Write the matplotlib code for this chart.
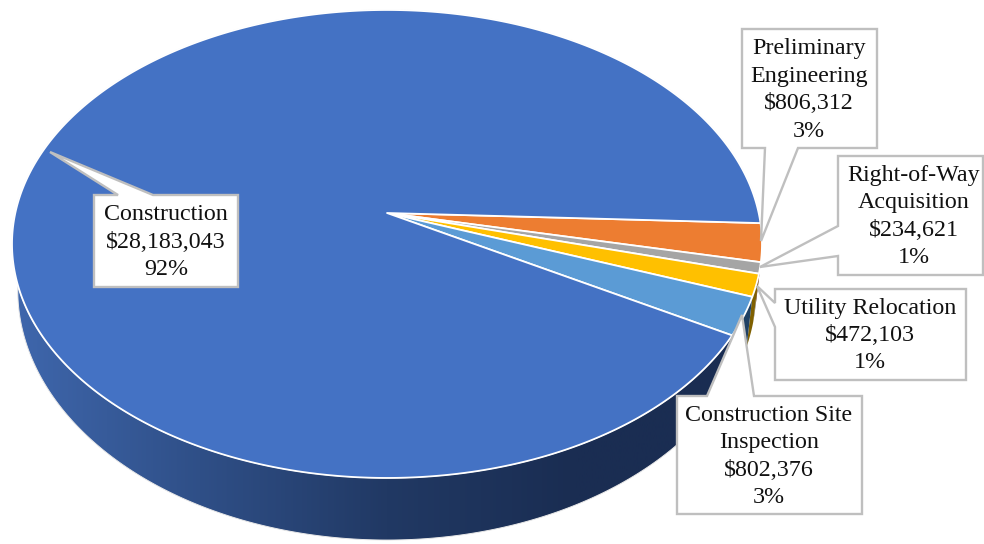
import numpy as np
import matplotlib
matplotlib.use("Agg")
import matplotlib.pyplot as plt
from matplotlib.patches import Polygon

plt.rcParams['font.family'] = ['Liberation Serif', 'DejaVu Serif']

names = ["Preliminary\nEngineering", "Right-of-Way\nAcquisition", "Utility Relocation",
         "Construction Site\nInspection", "Construction"]
costs = [806312, 234621, 472103, 802376, 28183043]
percents = [3, 1, 1, 3, 92]
top_colors = ["#ED7D31", "#A5A5A5", "#FFC000", "#5B9BD5", "#4472C4"]
side_colors = ["#8E4B1D", "#636363", "#7F6000", "#1F4064", "#1A2D52"]

START_ANGLE = -2.5
TILT = 0.1323
CX = 387


def project(angle, apex_y, a, b):
    # perspective view of a point on the rim of a disc
    u, v = np.cos(np.radians(angle)), np.sin(np.radians(angle))
    w = 1 + TILT * v
    return CX + a * u / w, apex_y - b * v / w


def top_rim(angle):
    return project(angle, 213, 371.7, 229.9)


def bottom_rim(angle):
    return project(angle, 257, 366.0, 245.6)


def arc(func, start, stop):
    n = max(int(abs(stop - start)) * 2, 4)
    x, y = func(np.linspace(start, stop, n))
    return np.column_stack([x, y])


fig = plt.figure(figsize=(9.84, 5.44), dpi=100)
ax = fig.add_axes([0, 0, 1, 1])
ax.set_xlim(0, 984)
ax.set_ylim(544, 0)
ax.axis('off')

sweeps = np.array(costs) / sum(costs) * 360
edges = START_ANGLE - np.concatenate([[0], np.cumsum(sweeps)])

# rim of each slice, back to front so the big one ends up underneath
for i in [1, 0, 2, 3]:
    wall = np.vstack([arc(top_rim, edges[i], edges[i + 1]), arc(bottom_rim, edges[i + 1], edges[i])])
    ax.add_patch(Polygon(wall, closed=True, fc=side_colors[i], ec='none', zorder=2))

# big slice rim fades from left to right
wall = np.vstack([arc(top_rim, edges[4], edges[5]), arc(bottom_rim, edges[5], edges[4])])
clip = Polygon(wall, closed=True, fc='none', ec='#E8E8E8', lw=0.7, zorder=3)
ax.add_patch(clip)
ramp = matplotlib.colors.LinearSegmentedColormap.from_list(
    'wall', ["#3F67AD", "#2F4F87", "#213964", "#1A2D52", "#1A2D52"])
img = ax.imshow(np.linspace(0, 1, 256)[None, :], cmap=ramp, extent=(12, 762, 544, 0), aspect='auto', zorder=2)
img.set_clip_path(clip)
ax.set_xlim(0, 984)
ax.set_ylim(544, 0)

# top faces
for i in range(5):
    rim = arc(top_rim, edges[i], edges[i + 1])
    face = np.vstack([[CX, 213], rim])
    ax.add_patch(Polygon(face, closed=True, fc=top_colors[i], ec='white', lw=1.3, zorder=4, joinstyle='round'))

# callout outlines: box corners with the leader tip
callouts = [
    [(742, 29), (877, 29), (877, 148), (798, 148), (761, 241), (765, 148), (742, 148)],
    [(838, 156), (983, 156), (983, 275), (838, 275), (838, 256), (760, 267), (838, 226)],
    [(775, 289), (966, 289), (966, 380), (775, 380), (775, 327), (757, 286), (775, 303)],
    [(677, 396), (707, 396), (742, 315), (754, 396), (862, 396), (862, 514), (677, 514)],
    [(94, 195), (118, 195), (50, 152), (153, 195), (238, 195), (238, 287), (94, 287)],
]
anchors = [(809, 90), (914, 216.5), (870, 335.5), (769, 456.5), (166, 242)]

for i, shape in enumerate(callouts):
    ax.add_patch(Polygon(shape, closed=True, fc='white', ec='#BFBFBF', lw=1.7, zorder=5, joinstyle='miter'))
    label = f"{names[i]}\n${costs[i]:,}\n{percents[i]}%"
    ax.text(anchors[i][0], anchors[i][1], label, ha='center', va='center', multialignment='center',
            fontsize=17.3, color='#111111', linespacing=1.4, zorder=6)

fig.savefig("out.png", dpi=100)
